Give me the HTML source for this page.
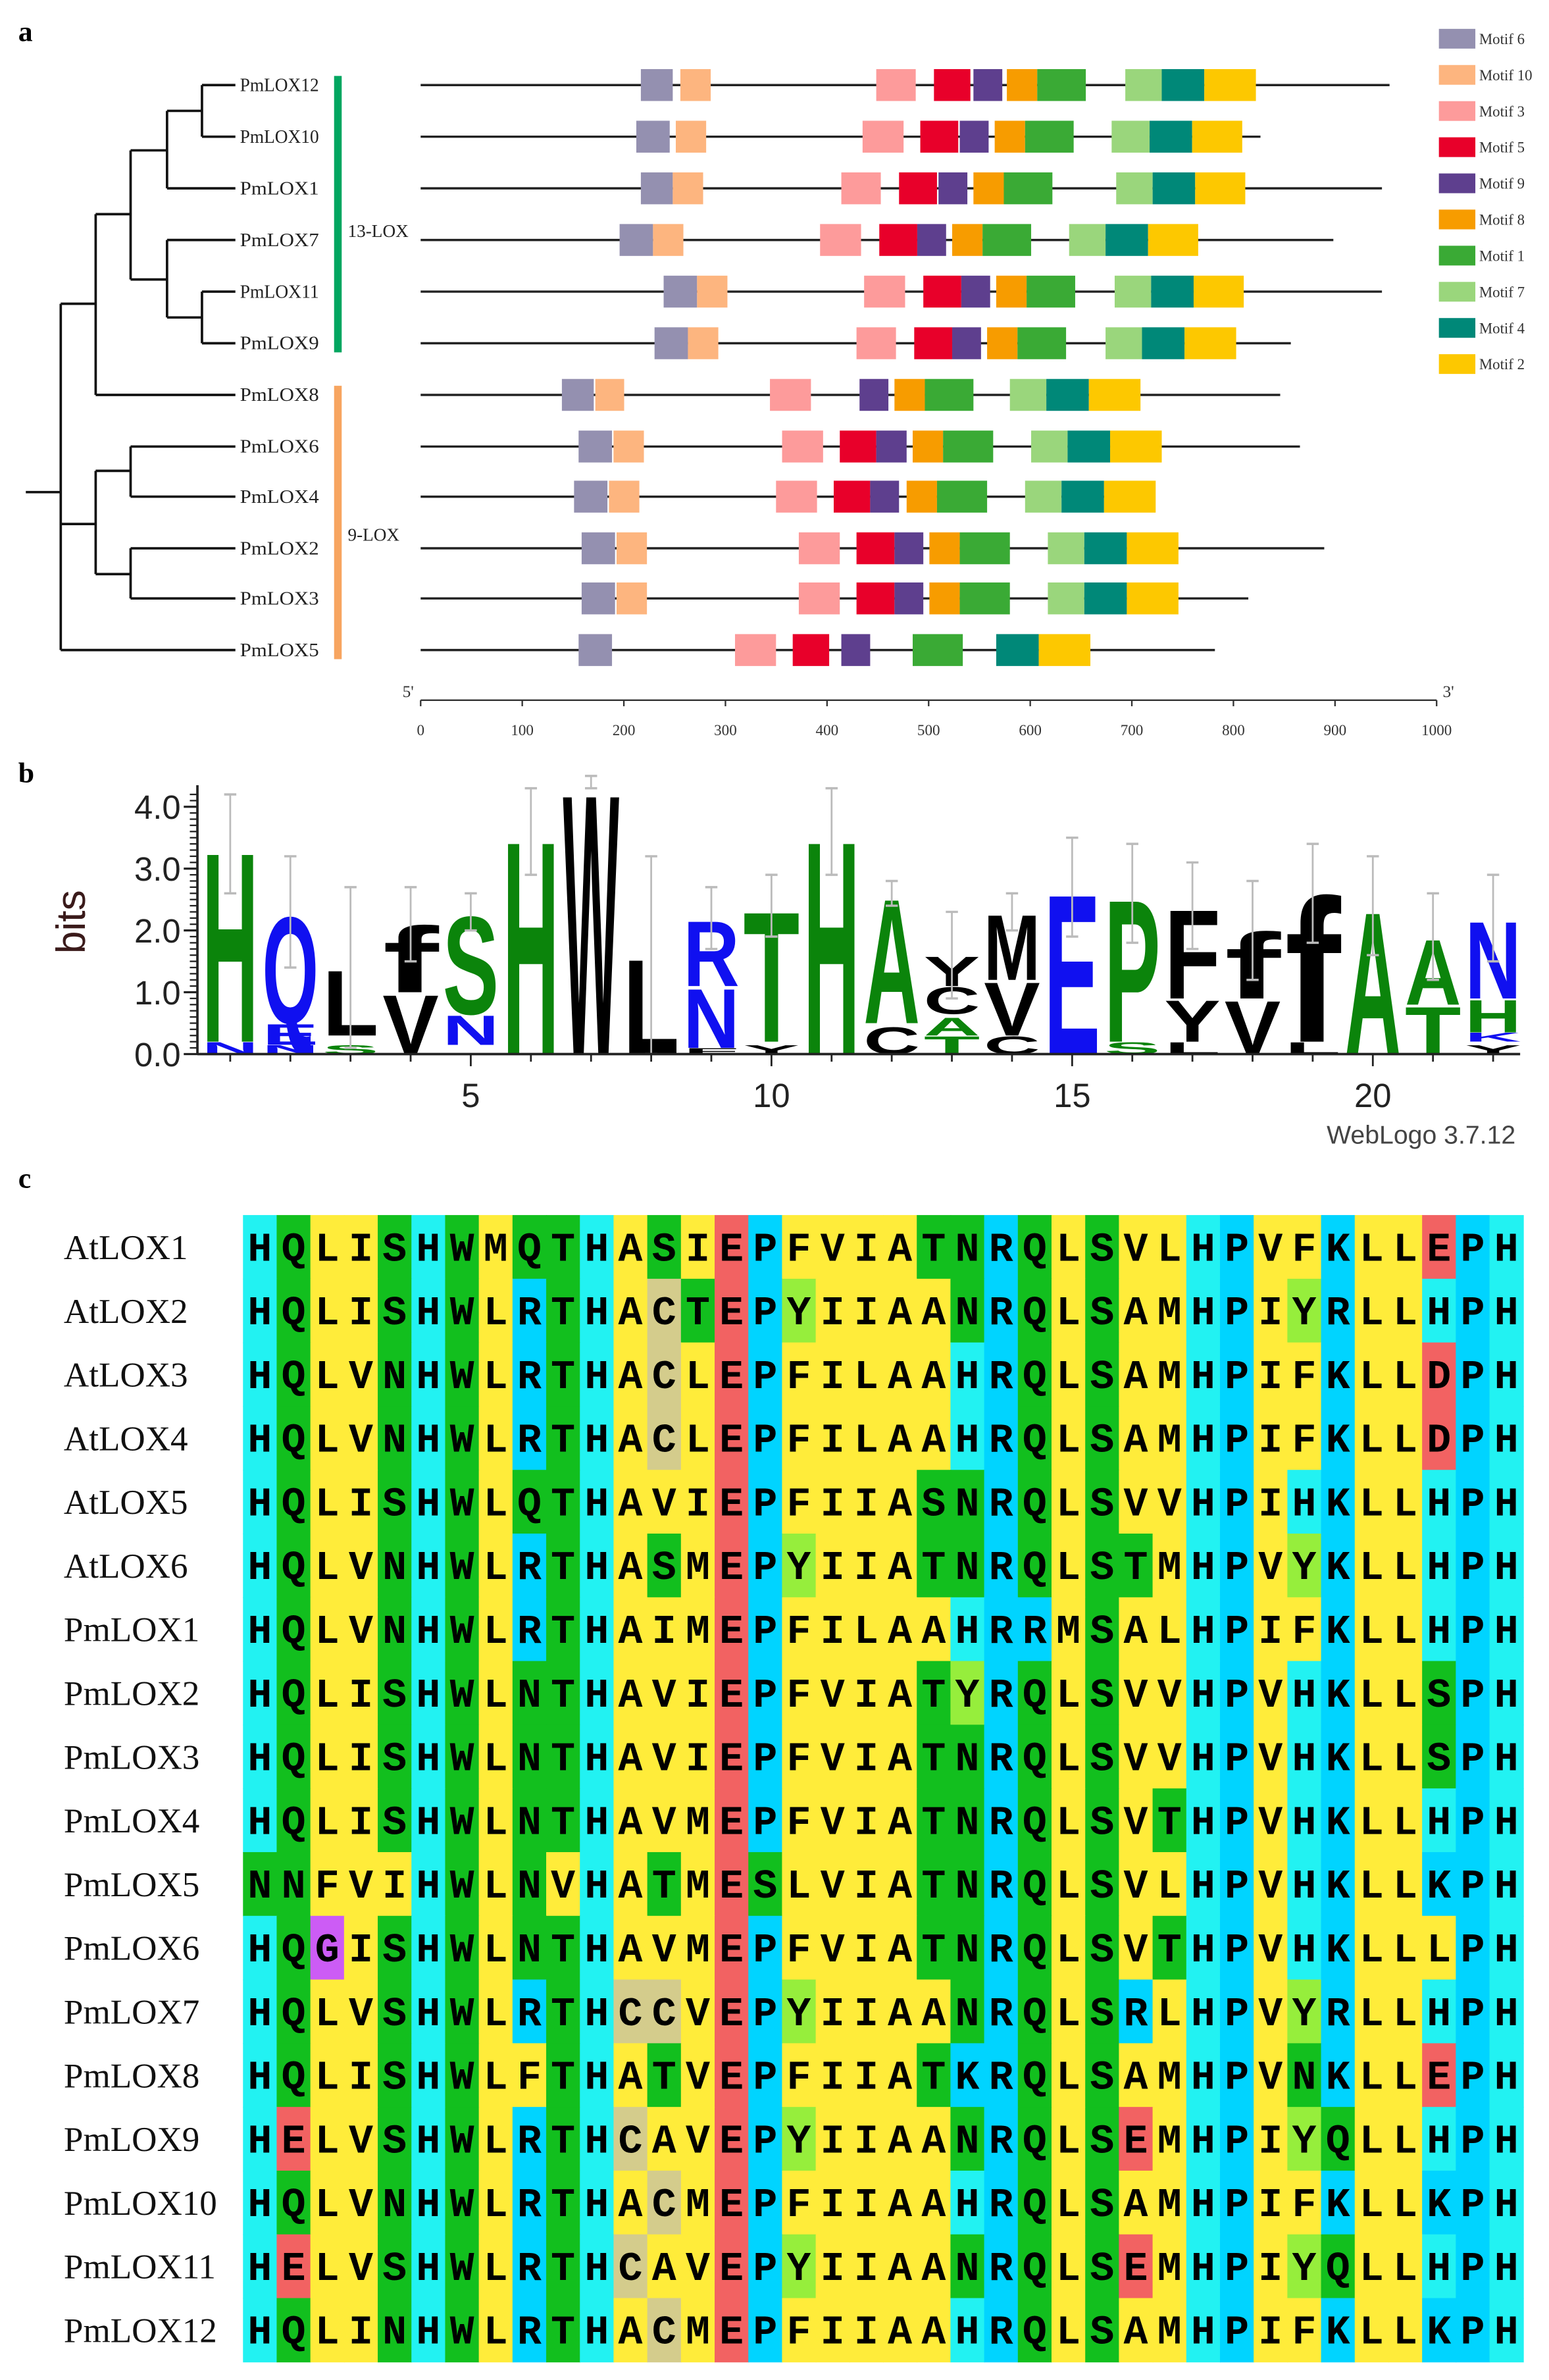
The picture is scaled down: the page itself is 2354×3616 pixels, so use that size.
<!DOCTYPE html>
<html><head><meta charset="utf-8">
<style>
html,body{margin:0;padding:0;background:#fff;}
svg{display:block;}
</style></head>
<body>
<svg id="s" xmlns="http://www.w3.org/2000/svg" width="2354" height="3616" viewBox="0 0 1020 1567" preserveAspectRatio="none">
<rect width="1020" height="1567" fill="#fff"/>
<g font-family="Liberation Serif, serif">
<text x="12" y="27" font-size="19" font-weight="bold">a</text>
<text x="12" y="515" font-size="19" font-weight="bold">b</text>
<text x="12" y="782" font-size="19" font-weight="bold">c</text>
</g>
<g id="tree" stroke="#111" stroke-width="1.6" fill="none"></g>
<g id="genes"></g>
<g id="legend" font-family="Liberation Serif, serif" font-size="10" fill="#333"></g>
<g id="logo"></g>
<g id="aln"></g>
</svg>
<script>
(function(){
var NS="http://www.w3.org/2000/svg";
function el(p,t,a,txt){var e=document.createElementNS(NS,t);for(var k in a)e.setAttribute(k,a[k]);if(txt!==undefined)e.textContent=txt;p.appendChild(e);return e;}
var tree=document.getElementById('tree');
function L(x1,y1,x2,y2){el(tree,'line',{x1:x1,y1:y1,x2:x2,y2:y2});}
var names=['PmLOX12','PmLOX10','PmLOX1','PmLOX7','PmLOX11','PmLOX9','PmLOX8','PmLOX6','PmLOX4','PmLOX2','PmLOX3','PmLOX5'];
var ys=[56,90,124,158,192,226,260,294,327,361,394,428];
L(17,324,40,324);L(40,200,40,428);
L(40,200,63,200);L(63,141,63,260);L(63,260,155,260);
L(63,141,86,141);L(86,99,86,184);
L(86,99,110,99);L(110,73,110,124);L(110,124,155,124);
L(110,73,133,73);L(133,56,133,90);L(133,56,155,56);L(133,90,155,90);
L(86,184,110,184);L(110,158,110,209);L(110,158,155,158);
L(110,209,133,209);L(133,192,133,226);L(133,192,155,192);L(133,226,155,226);
L(40,345,63,345);L(63,310,63,378);
L(63,310,86,310);L(86,294,86,327);L(86,294,155,294);L(86,327,155,327);
L(63,378,86,378);L(86,361,86,394);L(86,361,155,361);L(86,394,155,394);
L(40,428,155,428);
var g=document.getElementById('genes');
for(var i=0;i<12;i++){el(g,'text',{x:158,y:ys[i]+4,'font-family':'Liberation Serif, serif','font-size':12.5,fill:'#222',textLength:names[i].length>7?58:52,lengthAdjust:'spacingAndGlyphs'},names[i]);}
el(g,'rect',{x:220,y:50,width:5,height:182,fill:'#00a660'});
el(g,'rect',{x:220,y:254,width:5,height:180,fill:'#f7a560'});
el(g,'text',{x:229,y:156,'font-family':'Liberation Serif, serif','font-size':12,fill:'#222',textLength:40,lengthAdjust:'spacingAndGlyphs'},'13-LOX');
el(g,'text',{x:229,y:356,'font-family':'Liberation Serif, serif','font-size':12,fill:'#222',textLength:34,lengthAdjust:'spacingAndGlyphs'},'9-LOX');
var ends=[915,830,910,878,910,850,843,856,752,872,822,800];
var C={6:'#9490b0',10:'#fdb57f',3:'#fd9b9b',5:'#e8002a',9:'#5e3f8e',8:'#f79c00',1:'#3aaa35',7:'#9ad67c',4:'#008878',2:'#fdc800'};
var M=[
[[6,422,443],[10,448,468],[3,577,603],[5,615,639],[9,641,660],[8,663,683],[1,683,715],[7,741,765],[4,765,793],[2,793,827]],
[[6,419,441],[10,445,465],[3,568,595],[5,606,631],[9,632,651],[8,655,675],[1,675,707],[7,732,757],[4,757,785],[2,785,818]],
[[6,422,443],[10,443,463],[3,554,580],[5,592,617],[9,618,637],[8,641,661],[1,661,693],[7,735,759],[4,759,787],[2,787,820]],
[[6,408,430],[10,430,450],[3,540,567],[5,579,604],[9,604,623],[8,627,647],[1,647,679],[7,704,728],[4,728,756],[2,756,789]],
[[6,437,459],[10,459,479],[3,569,596],[5,608,633],[9,633,652],[8,656,676],[1,676,708],[7,734,758],[4,758,786],[2,786,819]],
[[6,431,453],[10,453,473],[3,564,590],[5,602,627],[9,627,646],[8,650,670],[1,670,702],[7,728,752],[4,752,780],[2,780,814]],
[[6,370,391],[10,392,411],[3,507,534],[9,566,585],[8,589,609],[1,609,641],[7,665,689],[4,689,717],[2,717,751]],
[[6,381,403],[10,404,424],[3,515,542],[5,553,577],[9,577,597],[8,601,621],[1,621,654],[7,679,703],[4,703,731],[2,731,765]],
[[6,378,400],[10,401,421],[3,511,538],[5,549,573],[9,573,592],[8,597,617],[1,617,650],[7,675,699],[4,699,727],[2,727,761]],
[[6,383,405],[10,406,426],[3,526,553],[5,564,589],[9,589,608],[8,612,632],[1,632,665],[7,690,714],[4,714,742],[2,742,776]],
[[6,383,405],[10,406,426],[3,526,553],[5,564,589],[9,589,608],[8,612,632],[1,632,665],[7,690,714],[4,714,742],[2,742,776]],
[[6,381,403],[3,484,511],[5,522,546],[9,554,573],[1,601,634],[4,656,684],[2,684,718]]];
for(var i=0;i<12;i++){
 el(g,'line',{x1:277,y1:ys[i],x2:ends[i],y2:ys[i],stroke:'#222','stroke-width':1.5});
 M[i].forEach(function(m){el(g,'rect',{x:m[1],y:ys[i]-10.5,width:m[2]-m[1],height:21,fill:C[m[0]]});});
}
el(g,'line',{x1:277,y1:461,x2:946,y2:461,stroke:'#333','stroke-width':1});
for(var v=0;v<=1000;v+=100){var xx=277+v*0.669;el(g,'line',{x1:xx,y1:461,x2:xx,y2:465,stroke:'#333','stroke-width':1});
el(g,'text',{x:xx,y:484,'text-anchor':'middle','font-family':'Liberation Serif, serif','font-size':10,fill:'#333'},String(v));}
el(g,'text',{x:265,y:459,'font-family':'Liberation Serif, serif','font-size':11,fill:'#333'},"5'");
el(g,'text',{x:950,y:459,'font-family':'Liberation Serif, serif','font-size':11,fill:'#333'},"3'");
var lg=document.getElementById('legend');var lo=[6,10,3,5,9,8,1,7,4,2];
for(var k=0;k<10;k++){var y=19+k*23.8;el(lg,'rect',{x:947.5,y:y,width:24,height:13,fill:C[lo[k]]});
el(lg,'text',{x:974,y:y+10,textLength:lo[k]==10?35:30,lengthAdjust:'spacingAndGlyphs'},'Motif '+lo[k]);}
var lgo=document.getElementById('logo');
var G='#0b840b',B='#1010f0',K='#000';
var D=[
[['N',B,0,.2],['H',G,.2,3.4]],
[['N',B,0,.15],['E',B,.15,.5],['Q',B,.5,2.3]],
[['S',G,0,.15],['L',K,.3,1.4]],
[['V',K,0,1.0],['f',K,1.0,2.1]],
[['N',B,.15,.65],['S',G,.65,2.3]],
[['H',G,0,3.6]],
[['W',K,0,4.4]],
[['L',K,0,1.6]],
[['F',K,0,.1],['N',B,.1,1.1],['R',B,1.1,2.2]],
[['Y',K,0,.15],['T',G,.2,2.4]],
[['H',G,0,3.6]],
[['C',K,0,.45],['A',G,.5,2.6]],
[['T',G,0,.3],['A',G,.3,.6],['C',K,.65,1.1],['Y',K,1.1,1.6]],
[['C',K,0,.3],['V',K,.3,1.2],['M',K,1.2,2.3]],
[['E',B,0,2.7]],
[['S',G,0,.2],['P',G,.2,2.6]],
[['L',K,0,.2],['Y',K,.2,.9],['F',K,.9,2.4]],
[['V',K,0,.9],['f',K,.9,2.0]],
[['L',K,0,.2],['f',K,.2,2.6]],
[['A',G,0,2.4]],
[['T',G,0,.8],['A',G,.8,1.9]],
[['Y',K,0,.15],['K',B,.2,.35],['H',G,.35,.9],['N',B,.9,2.2]]];
var ET=[4.2,3.2,2.7,2.7,2.6,4.3,4.3,3.2,2.7,2.9,4.3,2.8,2.3,2.6,3.5,3.4,3.1,2.8,3.4,3.2,2.6,2.9];
var Y0=694,S=40.7;
function cx(p){return 151.6+(p-1)*39.6;}
for(var p=1;p<=22;p++){
 var st=D[p-1],tp=st[st.length-1][3],x=cx(p);
 st.forEach(function(l){var h=(l[3]-l[2])*S;if(h<=0)return;var w=37;
  var sc=h/72.9;el(lgo,'text',{x:0,y:0,'font-family':'Liberation Sans, sans-serif','font-weight':'bold','font-size':100,fill:l[1],textLength:70,lengthAdjust:'spacingAndGlyphs',transform:'translate('+(x-w/2)+','+(Y0-l[2]*S)+') scale('+(w/70)+','+sc+')'},l[0]);});
 var et=ET[p-1],eb=Math.max(0,2*tp-et);
 el(lgo,'line',{x1:x,y1:Y0-et*S,x2:x,y2:Y0-eb*S,stroke:'#bbb','stroke-width':1.2});
 el(lgo,'line',{x1:x-4,y1:Y0-et*S,x2:x+4,y2:Y0-et*S,stroke:'#bbb','stroke-width':1.5});
 el(lgo,'line',{x1:x-4,y1:Y0-eb*S,x2:x+4,y2:Y0-eb*S,stroke:'#bbb','stroke-width':1.5});
 el(lgo,'line',{x1:x,y1:Y0,x2:x,y2:Y0+(p%5==0?8:5),stroke:'#222','stroke-width':1.2});
 if(p%5==0)el(lgo,'text',{x:x,y:729,'text-anchor':'middle','font-family':'Liberation Sans, sans-serif','font-size':22,fill:'#222'},String(p));
}
el(lgo,'line',{x1:130,y1:Y0,x2:1001,y2:Y0,stroke:'#222','stroke-width':1.6});
el(lgo,'line',{x1:130,y1:Y0,x2:130,y2:517,stroke:'#222','stroke-width':1.6});
for(var b=0;b<=4.3;b+=0.1){var yy=Y0-b*S;el(lgo,'line',{x1:125,y1:yy,x2:130,y2:yy,stroke:'#222','stroke-width':1});}
for(var b=0;b<=4;b++){var yy=Y0-b*S;el(lgo,'line',{x1:121,y1:yy,x2:130,y2:yy,stroke:'#222','stroke-width':1.4});
el(lgo,'text',{x:119,y:yy+8,'text-anchor':'end','font-family':'Liberation Sans, sans-serif','font-size':22,fill:'#222'},b.toFixed(1));}
el(lgo,'text',{x:0,y:0,'font-family':'Liberation Sans, sans-serif','font-size':27,fill:'#3a1a1a','text-anchor':'middle',transform:'translate(56,607) rotate(-90)'},'bits');
el(lgo,'text',{x:998,y:753,'text-anchor':'end','font-family':'Liberation Sans, sans-serif','font-size':17,fill:'#444'},'WebLogo 3.7.12');
var an=document.getElementById('aln');
var seqs=[
['AtLOX1','HQLISHWMQTHASIEPFVIATNRQLSVLHPVFKLLEPH'],
['AtLOX2','HQLISHWLRTHACTEPYIIAANRQLSAMHPIYRLLHPH'],
['AtLOX3','HQLVNHWLRTHACLEPFILAAHRQLSAMHPIFKLLDPH'],
['AtLOX4','HQLVNHWLRTHACLEPFILAAHRQLSAMHPIFKLLDPH'],
['AtLOX5','HQLISHWLQTHAVIEPFIIASNRQLSVVHPIHKLLHPH'],
['AtLOX6','HQLVNHWLRTHASMEPYIIATNRQLSTMHPVYKLLHPH'],
['PmLOX1','HQLVNHWLRTHAIMEPFILAAHRRMSALHPIFKLLHPH'],
['PmLOX2','HQLISHWLNTHAVIEPFVIATYRQLSVVHPVHKLLSPH'],
['PmLOX3','HQLISHWLNTHAVIEPFVIATNRQLSVVHPVHKLLSPH'],
['PmLOX4','HQLISHWLNTHAVMEPFVIATNRQLSVTHPVHKLLHPH'],
['PmLOX5','NNFVIHWLNVHATMESLVIATNRQLSVLHPVHKLLKPH'],
['PmLOX6','HQGISHWLNTHAVMEPFVIATNRQLSVTHPVHKLLLPH'],
['PmLOX7','HQLVSHWLRTHCCVEPYIIAANRQLSRLHPVYRLLHPH'],
['PmLOX8','HQLISHWLFTHATVEPFIIATKRQLSAMHPVNKLLEPH'],
['PmLOX9','HELVSHWLRTHCAVEPYIIAANRQLSEMHPIYQLLHPH'],
['PmLOX10','HQLVNHWLRTHACMEPFIIAAHRQLSAMHPIFKLLKPH'],
['PmLOX11','HELVSHWLRTHCAVEPYIIAANRQLSEMHPIYQLLHPH'],
['PmLOX12','HQLINHWLRTHACMEPFIIAAHRQLSAMHPIFKLLKPH']];
var col={H:'#22f2f2',P:'#00d4ff',R:'#00d4ff',K:'#00d4ff',S:'#12bf1e',T:'#12bf1e',N:'#12bf1e',Q:'#12bf1e',W:'#12bf1e',E:'#f26262',D:'#f26262',Y:'#96ee3c',C:'#d4cc8c',G:'#cc5cf5'};
var X0=160,CW=(1003-160)/38,RY0=800,RH=(1555-800)/18;
seqs.forEach(function(s,r){var y=RY0+r*RH;
 for(var c=0;c<38;c++){var ch=s[1][c];el(an,'rect',{x:X0+c*CW,y:y,width:CW+0.4,height:RH+0.4,fill:col[ch]||'#ffec3a'});}
});
seqs.forEach(function(s,r){var y=RY0+r*RH;
 el(an,'text',{x:42,y:y+29,'font-family':'Liberation Serif, serif','font-size':23,fill:'#111'},s[0]);
 for(var c=0;c<38;c++){el(an,'text',{x:X0+c*CW+CW/2,y:y+30,'text-anchor':'middle','font-family':'Liberation Mono, monospace','font-weight':'bold','font-size':27,fill:'#000',textLength:16,lengthAdjust:'spacingAndGlyphs'},s[1][c]);}
});
})();
</script>
</body></html>
